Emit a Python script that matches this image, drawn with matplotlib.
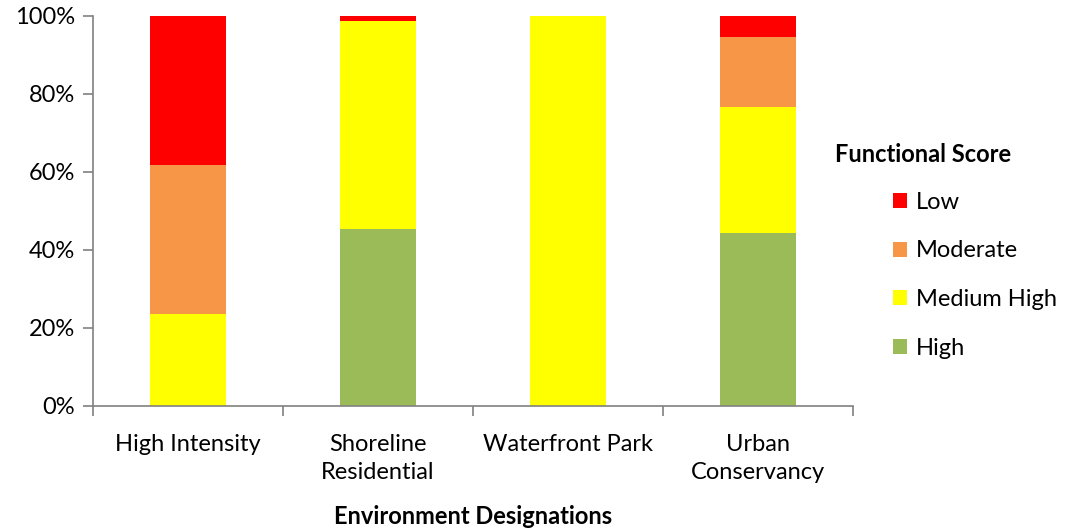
import matplotlib
matplotlib.use("Agg")
import matplotlib.pyplot as plt
import numpy as np

plt.rcParams['font.family'] = ['Lato', 'DejaVu Sans']

categories = ["High Intensity", "Shoreline\nResidential", "Waterfront Park", "Urban\nConservancy"]
series_names = ["High", "Medium High", "Moderate", "Low"]
high = [0.0, 45.3, 0.0, 44.3]
medium_high = [23.5, 53.3, 100.0, 32.3]
moderate = [38.4, 0.0, 0.0, 18.1]
low = [38.1, 1.4, 0.0, 5.3]
colors = ["#9BBB59", "#FFFF00", "#F79646", "#FF0000"]
y_ticks = [0, 20, 40, 60, 80, 100]

fig = plt.figure(figsize=(10.68, 5.29), dpi=100)
ax = fig.add_axes([93/1068, 1 - 406/529, (853-93)/1068, (406-16)/529])

x = np.arange(len(categories))
bottom = np.zeros(len(categories))
handles = []
for name, vals, col in zip(series_names, [high, medium_high, moderate, low], colors):
    b = ax.bar(x, vals, width=0.4, bottom=bottom, color=col, label=name, edgecolor='none')
    handles.append(b)
    bottom += np.array(vals)

ax.set_xlim(-0.5, len(categories) - 0.5)
ax.set_ylim(0, 100)
ax.set_yticks(y_ticks)
ax.set_yticklabels([f"{t}%" for t in y_ticks])
ax.set_xticks(x)
ax.set_xticklabels(categories, linespacing=1.4)
ax.tick_params(axis='x', length=0, pad=20, labelsize=17)
ax.set_xticks(np.arange(len(categories) + 1) - 0.5, minor=True)
ax.tick_params(axis='x', which='minor', length=7, width=1.2, color='#808080', direction='out')
ax.tick_params(axis='y', length=7, width=1.2, color='#808080', direction='out', labelsize=17, pad=6)

for s in ['top', 'right']:
    ax.spines[s].set_visible(False)
for s in ['left', 'bottom']:
    ax.spines[s].set_color('#808080')
    ax.spines[s].set_linewidth(1.2)

ax.set_xlabel("Environment Designations", fontsize=17, fontweight='bold', labelpad=16)

fig.text(835/1068, 1 - 155/529, "Functional Score", fontsize=17, fontweight='bold',
         ha='left', va='center')
leg = fig.legend(handles[::-1], series_names[::-1], loc='upper left',
                 bbox_to_anchor=(888/1068, 1 - 187/529), frameon=False,
                 fontsize=17, handlelength=0.6, handleheight=0.6,
                 handletextpad=0.4, labelspacing=1.17, borderaxespad=0, borderpad=0.2)

fig.savefig("out.png", dpi=100)
